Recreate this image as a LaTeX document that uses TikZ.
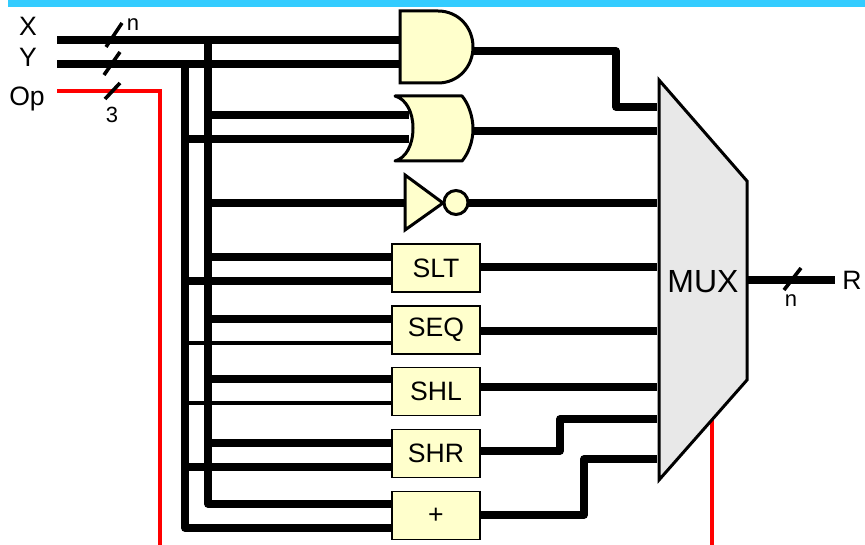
\documentclass[tikz,border=0pt]{standalone}
\usepackage{fontspec}
\setmainfont{Liberation Sans}
\definecolor{gatefill}{HTML}{FFFFCC}
\definecolor{muxfill}{HTML}{E8E8E8}
\definecolor{topbar}{HTML}{33CCFF}
\newcommand{\boxtext}[1]{\raisebox{-2.6pt}{#1}}
\tikzset{
  bus/.style={draw=black,line width=7.5pt,line join=round},
  thinbus/.style={draw=black,line width=4pt},
  ctrl/.style={draw=red,line width=3.6pt,line join=miter},
  slash/.style={draw=black,line width=3.6pt},
  gate/.style={draw=black,line width=3pt,fill=gatefill,line join=miter},
  unit/.style={draw=black,line width=1.3pt,fill=gatefill,minimum width=88pt,minimum height=48pt,inner sep=0pt,font=\fontsize{26.6}{30}\selectfont},
  lab/.style={inner sep=0pt,font=\fontsize{26.6}{30}\selectfont},
  smalllab/.style={inner sep=0pt,font=\fontsize{22}{25}\selectfont},
}
\begin{document}
\begin{tikzpicture}[x=1pt,y=-1pt]
\useasboundingbox (0,0) rectangle (865,545);
\fill[topbar] (8,0) rectangle (865,7);

% named points
\coordinate (xin) at (57,40); \coordinate (yin) at (57,64); \coordinate (opin) at (57,91);
\coordinate (vx) at (208,40); \coordinate (vy) at (185,64);
\coordinate (opc) at (160,91); \coordinate (opend) at (160,545);
\coordinate (muxsel) at (712,419); \coordinate (selend) at (712,545);
\coordinate (andA) at (402,40); \coordinate (andB) at (402,64);
\coordinate (orA) at (409,115); \coordinate (orB) at (409,139);
\coordinate (orAs) at (208,115); \coordinate (orBs) at (185,139);
\coordinate (notin) at (408,203); \coordinate (notins) at (208,203);

% boxes
\node[unit] (slt) at (436,268) {\boxtext{SLT}};
\node[unit] (seq) at (436,330) {\boxtext{SEQ}};
\node[unit] (shl) at (436,391.5) {\boxtext{SHL}};
\node[unit] (shr) at (436,453.5) {\boxtext{SHR}};
\node[unit] (add) at (436,515.5) {\boxtext{+}};

% input buses
\draw[bus] (xin) -- (andA);
\draw[bus] (yin) -- (andB);
\draw[ctrl] (opin) -- (opc) -- (opend);
\draw[ctrl] (muxsel) -- (selend);
\draw[bus] (vx) -- (208,504) -- (392,504);
\draw[bus] (vy) -- (185,528) -- (392,528);
\draw[bus] (orAs) -- (orA);
\draw[bus] (orBs) -- (orB);
\draw[bus] (notins) -- (notin);
\draw[bus] (208,257) -- (392,257);
\draw[bus] (185,281) -- (392,281);
\draw[bus] (208,319) -- (392,319);
\draw[thinbus] (185,343) -- (392,343);
\draw[bus] (208,379) -- (392,379);
\draw[thinbus] (185,403) -- (392,403);
\draw[bus] (208,443) -- (392,443);
\draw[bus] (185,467) -- (392,467);

% outputs
\coordinate (andout) at (473,51);
\coordinate (orout) at (473,131);
\coordinate (notout) at (468,203);
\draw[bus] (andout) -- (616,51) -- (616,107) -- (657,107);
\draw[bus] (orout) -- (657,131);
\draw[bus] (notout) -- (657,203);
\draw[bus] (slt.east |- 0,267) -- (657,267);
\draw[bus] (seq.east |- 0,331) -- (657,331);
\draw[bus] (shl.east |- 0,387) -- (657,387);
\draw[bus] (shr.east |- 0,451) -- (560,451) -- (560,419) -- (657,419);
\draw[bus] (add.east |- 0,515) -- (584,515) -- (584,459) -- (657,459);
\coordinate (rend) at (835,280);
\draw[bus] (747,280) -- (rend);

% gates
\draw[gate] (400,11) -- (438,11) .. controls (458,11) and (473,27) .. (473,47) .. controls (473,67) and (458,83) .. (438,83) -- (400,83) -- cycle;
\draw[gate,line join=round] (395,96) -- (462,96) .. controls (468,103) and (473,116) .. (473,129) .. controls (473,142) and (468,154) .. (462,161) -- (395,161) .. controls (406,158) and (413,145) .. (413,128) .. controls (413,112) and (406,99) .. (395,96) -- cycle;
\draw[gate] (405,175) -- (443,203) -- (405,230) -- cycle;
\draw[gate] (456,202.5) circle (12);

% mux
\draw[draw=black,line width=3pt,fill=muxfill,line join=miter] (659,80) -- (747,181) -- (747,380) -- (659,480) -- cycle;
\node[inner sep=0pt,font=\fontsize{32}{36}\selectfont] (mux) at (703,282) {MUX};

% width slashes
\draw[slash] (106,47) -- (122,23);
\draw[slash] (104,75) -- (120,52);
\draw[slash] (105,99) -- (120,83);
\draw[slash] (784,290) -- (801,268);

% labels
\node[lab] (lx) at (28,26) {X};
\node[lab] (ly) at (28,57) {Y};
\node[lab] (lop) at (27,99) {Op};
\node[lab] (lr) at (852,280) {R};
\node[smalllab] (ln) at (133,25) {n};
\node[smalllab] (l3) at (112,115) {3};
\node[smalllab] (ln2) at (791,301) {n};
\end{tikzpicture}
\end{document}
